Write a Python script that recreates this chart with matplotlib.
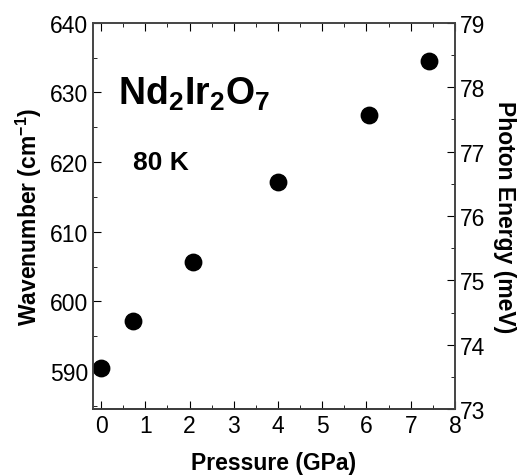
import matplotlib.pyplot as plt
from matplotlib.ticker import MultipleLocator

plt.rcParams['font.family'] = ['Liberation Sans', 'DejaVu Sans']
plt.rcParams['mathtext.fontset'] = 'custom'
plt.rcParams['mathtext.rm'] = 'Liberation Sans'
plt.rcParams['mathtext.bf'] = 'Liberation Sans:bold'

# Nd2Ir2O7 phonon mode at 80 K vs pressure
pressure = [0.0, 0.72, 2.07, 4.0, 6.06, 7.41]
wavenumber = [590.4, 597.2, 605.7, 617.1, 626.7, 634.5]

fig = plt.figure(figsize=(5.29, 4.77), dpi=100)
ax = fig.add_axes([0.176, 0.140, 0.684, 0.810])

ax.scatter(pressure, wavenumber, s=140, color='black', zorder=3)

ax.set_xlim(-0.18, 8)
ax.set_ylim(584.5, 640)
ax.xaxis.set_major_locator(MultipleLocator(1))
ax.xaxis.set_minor_locator(MultipleLocator(0.5))
ax.yaxis.set_major_locator(MultipleLocator(10))
ax.yaxis.set_minor_locator(MultipleLocator(5))
ax.tick_params(which='both', direction='in', top=True, labelsize=16.5)
ax.tick_params(which='major', length=6)
ax.tick_params(which='minor', length=3)

ax.set_xlabel('Pressure (GPa)', fontsize=16.5, fontweight='bold', labelpad=10)
ax.set_ylabel(r'Wavenumber (cm$^{\mathbf{-1}}$)', fontsize=16.5, fontweight='bold')

ax2 = ax.twinx()
ax2.set_ylim(73, 79)
ax2.yaxis.set_major_locator(MultipleLocator(1))
ax2.yaxis.set_minor_locator(MultipleLocator(0.5))
ax2.tick_params(which='both', direction='in', labelsize=16.5)
ax2.tick_params(which='major', length=6)
ax2.tick_params(which='minor', length=3)
ax2.set_ylabel('Photon Energy (meV)', fontsize=16.5, fontweight='bold',
               rotation=-90, labelpad=22)

for a in (ax, ax2):
    for s in a.spines.values():
        s.set_color('#444444')
        s.set_linewidth(1.2)
ax.spines['bottom'].set_color('black')

ax.text(0.07, 0.82, r'$\mathbf{Nd_2Ir_2O_7}$', transform=ax.transAxes,
        fontsize=27, va='center')
ax.text(0.11, 0.64, '80 K', transform=ax.transAxes,
        fontsize=19, fontweight='bold', va='center')

fig.savefig('out.png', dpi=100)
